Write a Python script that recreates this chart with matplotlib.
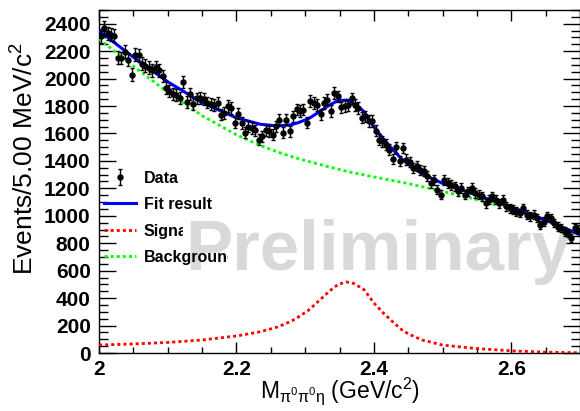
import numpy as np
import matplotlib
matplotlib.use("Agg")
import matplotlib.pyplot as plt
from matplotlib.ticker import MultipleLocator
from matplotlib.transforms import Bbox

plt.rcParams['font.family'] = ['Liberation Sans', 'DejaVu Sans']
plt.rcParams['mathtext.fontset'] = 'custom'
plt.rcParams['mathtext.rm'] = 'Liberation Sans'
plt.rcParams['mathtext.it'] = 'Liberation Sans:italic'

# data: events per 5 MeV bin, 2.0 - 2.7 GeV
m_lo, bin_w = 2.0, 0.005
counts = [
    2310, 2370, 2330, 2320, 2314, 2153, 2150, 2197, 2139, 2029,
    2175, 2170, 2110, 2095, 2080, 2060, 2085, 2060, 2020, 1935,
    1910, 1890, 1880, 1860, 1978, 1830, 1890, 1815, 1855, 1860,
    1850, 1825, 1815, 1810, 1820, 1737, 1750, 1798, 1786, 1680,
    1745, 1677, 1605, 1650, 1640, 1625, 1555, 1580, 1625, 1615,
    1590, 1652, 1700, 1605, 1700, 1616, 1725, 1775, 1765, 1774,
    1680, 1835, 1820, 1810, 1740, 1822, 1847, 1765, 1895, 1870,
    1790, 1800, 1810, 1855, 1810, 1785, 1715, 1725, 1690, 1690,
    1620, 1555, 1543, 1518, 1482, 1412, 1500, 1400, 1494, 1410,
    1390, 1348, 1360, 1336, 1324, 1290, 1240, 1263, 1190, 1153,
    1263, 1239, 1226, 1214, 1178, 1202, 1153, 1178, 1202, 1165,
    1153, 1141, 1093, 1117, 1141, 1117, 1093, 1117, 1068, 1056,
    1044, 1031, 1020, 1056, 1007, 995, 1007, 983, 934, 958,
    995, 983, 946, 922, 910, 885, 873, 837, 910, 900,
]

# fit components
m_curve = [2.00, 2.05, 2.10, 2.15, 2.20, 2.235, 2.26, 2.28, 2.29, 2.305,
           2.32, 2.335, 2.348, 2.36, 2.372, 2.386, 2.40, 2.414, 2.429, 2.44,
           2.45, 2.47, 2.50, 2.55, 2.60, 2.65, 2.70]
signal = [58, 66, 77, 95, 124, 155, 190, 232, 262, 312,
          380, 450, 500, 518, 505, 460, 365, 290, 220, 172,
          140, 95, 58, 32, 16, 6, 2]
background = [2290, 2090, 1900, 1730, 1590, 1512, 1465, 1432, 1417, 1396,
              1376, 1356, 1340, 1325, 1312, 1298, 1283, 1270, 1255, 1245,
              1235, 1212, 1178, 1118, 1048, 963, 860]

counts = np.array(counts, dtype=float)
m_data = m_lo + bin_w * (np.arange(len(counts)) + 0.5)
m_curve = np.array(m_curve)
signal = np.array(signal, dtype=float)
background = np.array(background, dtype=float)
fit_total = signal + background

fig = plt.figure(figsize=(5.8, 4.11), dpi=100)
ax = fig.add_axes([99/580, 58/411, 481/580, 343/411])

ax.plot(m_curve, background, color='#00ff00', lw=2.0, dashes=(1.1, 1.1),
        dash_capstyle='butt', label='Background', zorder=3)
ax.plot(m_curve, signal, color='#ff0000', lw=2.0, dashes=(1.1, 1.1),
        dash_capstyle='butt', label='Signal', zorder=3)
ax.plot(m_curve, fit_total, color='#0000ff', lw=2.2, label='Fit result', zorder=4)
ax.errorbar(m_data, counts, yerr=np.sqrt(counts), fmt='o', color='black',
            ms=3.6, elinewidth=1.0, capsize=1.5, capthick=1.0,
            label='Data', zorder=5)

ax.set_xlim(2.0, 2.7)
ax.set_ylim(0, 2500)
ax.xaxis.set_major_locator(MultipleLocator(0.2))
ax.xaxis.set_minor_locator(MultipleLocator(0.05))
ax.yaxis.set_major_locator(MultipleLocator(200))
ax.yaxis.set_minor_locator(MultipleLocator(50))
ax.tick_params(which='both', direction='in', top=True, right=True, width=1.0)
ax.tick_params(axis='y', which='major', length=12)
ax.tick_params(axis='y', which='minor', length=6.5)
ax.tick_params(axis='x', which='major', length=8)
ax.tick_params(axis='x', which='minor', length=4.5)
ax.tick_params(axis='y', labelsize=15, pad=6)
ax.tick_params(axis='x', labelsize=15, pad=5)
ax.set_xticks([2.0, 2.2, 2.4, 2.6])
ax.set_xticklabels(['2', '2.2', '2.4', '2.6'])
for lab in ax.get_xticklabels() + ax.get_yticklabels():
    lab.set_fontweight('bold')
for sp in ax.spines.values():
    sp.set_linewidth(1.0)

fig.text(340/580, 1 - 398/411, r'M$_{\mathrm{\pi^0\pi^0\eta}}$ (GeV/c$^2$)',
         fontsize=16.5, ha='center', va='baseline')
fig.text(25/580, 1 - 42/411, r'Events/5.00 MeV/c$^2$', fontsize=19,
         rotation=90, ha='center', va='top')

ax.text(185/580, 1 - 270/411, 'Preliminary', transform=fig.transFigure,
        fontsize=51, fontweight='bold', color='#d9d9d9', ha='left',
        va='baseline', zorder=2)

h, l = ax.get_legend_handles_labels()
order = [l.index('Data'), l.index('Fit result'), l.index('Signal'), l.index('Background')]
leg = ax.legend([h[i] for i in order], [l[i] for i in order],
                loc='upper left', bbox_to_anchor=(0.01, 0.532), frameon=False,
                prop={'weight': 'bold', 'size': 11.5}, handlelength=2.0,
                handletextpad=0.5, labelspacing=0.72, borderpad=0, borderaxespad=0)
leg.set_zorder(8)

# the legend box in the original is too narrow, last letters get cut off
clip_right = {'Signal': 183, 'Background': 228}
for t in leg.get_texts():
    if t.get_text() in clip_right:
        t.set_clip_box(Bbox.from_extents(0, 0, clip_right[t.get_text()], 411))
        t.set_clip_on(True)

fig.savefig('out.png', dpi=100)
